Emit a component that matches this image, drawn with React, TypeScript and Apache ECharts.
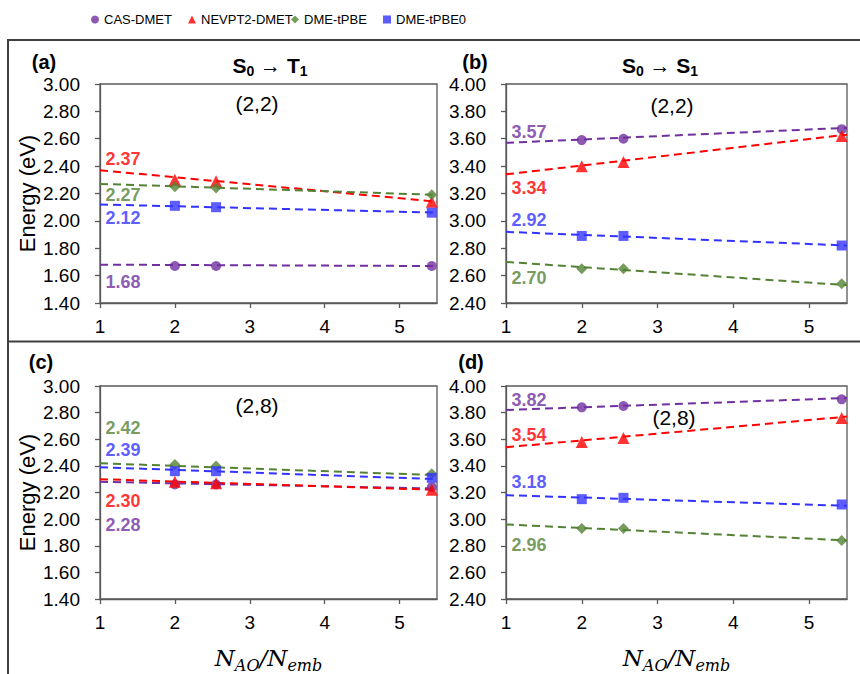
import React, { useEffect, useRef } from "react";
import * as echarts from "echarts";

// ---------- data ----------
const methods = ["CAS-DMET", "NEVPT2-DMET", "DME-tPBE", "DME-tPBE0"];
const xValues = [2, 2.55, 5.43];
const trendX = [1, 5.5];
const xTicks = [1, 2, 3, 4, 5];

// panel (a) S0->T1 (2,2)
const casA = [1.67, 1.67, 1.67];
const nevA = [2.3, 2.29, 2.14];
const tpbeA = [2.25, 2.24, 2.19];
const tpbe0A = [2.11, 2.1, 2.06];
const casTrendA = [1.68, 1.67];
const nevTrendA = [2.37, 2.14];
const tpbeTrendA = [2.27, 2.19];
const tpbe0TrendA = [2.12, 2.06];

// panel (b) S0->S1 (2,2)
const casB = [3.59, 3.6, 3.67];
const nevB = [3.4, 3.43, 3.62];
const tpbeB = [2.65, 2.65, 2.54];
const tpbe0B = [2.89, 2.89, 2.82];
const casTrendB = [3.57, 3.68];
const nevTrendB = [3.34, 3.63];
const tpbeTrendB = [2.7, 2.53];
const tpbe0TrendB = [2.92, 2.82];

// panel (c) S0->T1 (2,8)
const casC = [2.26, 2.26, 2.24];
const nevC = [2.28, 2.27, 2.22];
const tpbeC = [2.41, 2.4, 2.34];
const tpbe0C = [2.36, 2.36, 2.31];
const casTrendC = [2.28, 2.23];
const nevTrendC = [2.3, 2.22];
const tpbeTrendC = [2.42, 2.33];
const tpbe0TrendC = [2.39, 2.3];

// panel (d) S0->S1 (2,8)
const casD = [3.84, 3.85, 3.9];
const nevD = [3.58, 3.61, 3.76];
const tpbeD = [2.93, 2.93, 2.84];
const tpbe0D = [3.15, 3.16, 3.11];
const casTrendD = [3.82, 3.91];
const nevTrendD = [3.54, 3.77];
const tpbeTrendD = [2.96, 2.84];
const tpbe0TrendD = [3.18, 3.1];

const yRanges = [
  [1.4, 3.0],
  [2.4, 4.0],
  [1.4, 3.0],
  [2.4, 4.0],
];

// ---------- styles / layout ----------
const COLORS = ["#7030A0", "#FF0000", "#548235", "#3333FF"];
const SYMBOLS = ["circle", "triangle", "diamond", "rect"];
const SYMBOL_SIZES = [10, 12, 11, 10];
const FONT = "'Liberation Sans', Arial, Helvetica, sans-serif";

const GRIDS = [
  { left: 100, top: 84, width: 337, height: 219 },
  { left: 506, top: 84, width: 341, height: 219 },
  { left: 100, top: 386, width: 337, height: 217 },
  { left: 506, top: 386, width: 341, height: 217 },
];

// vertical offsets (px) of the intercept labels relative to their line start
const LABEL_DY = [
  [17, -11, 11, 13.5],
  [-11, 13.5, 16, -12],
  [43, 22, -35, -17],
  [-10, -12, 21, -13],
];

const panelValues = [
  [casA, nevA, tpbeA, tpbe0A],
  [casB, nevB, tpbeB, tpbe0B],
  [casC, nevC, tpbeC, tpbe0C],
  [casD, nevD, tpbeD, tpbe0D],
];
const panelTrends = [
  [casTrendA, nevTrendA, tpbeTrendA, tpbe0TrendA],
  [casTrendB, nevTrendB, tpbeTrendB, tpbe0TrendB],
  [casTrendC, nevTrendC, tpbeTrendC, tpbe0TrendC],
  [casTrendD, nevTrendD, tpbeTrendD, tpbe0TrendD],
];

function buildOption() {
  const series: any[] = [];
  panelValues.forEach((vals, p) => {
    vals.forEach((v, m) => {
      const tr = panelTrends[p][m];
      series.push({
        type: "line",
        name: methods[m] + " trend",
        xAxisIndex: p,
        yAxisIndex: p,
        data: trendX.map((x, i) => [x, tr[i]]),
        symbol: "none",
        silent: true,
        z: 2,
        lineStyle: { color: COLORS[m], width: 2, type: [8, 5] },
      });
      series.push({
        type: "scatter",
        name: methods[m],
        xAxisIndex: p,
        yAxisIndex: p,
        data: xValues.map((x, i) => [x, v[i]]),
        symbol: SYMBOLS[m],
        symbolSize: SYMBOL_SIZES[m],
        itemStyle: { color: COLORS[m] },
        z: 3,
      });
      series.push({
        type: "scatter",
        name: methods[m] + " intercept",
        xAxisIndex: p,
        yAxisIndex: p,
        clip: false,
        silent: true,
        data: [[trendX[0], tr[0]]],
        symbolSize: 1,
        itemStyle: { color: "rgba(0,0,0,0)" },
        z: 4,
        label: {
          show: true,
          position: "right",
          distance: 5,
          offset: [0, LABEL_DY[p][m]],
          formatter: () => tr[0].toFixed(2),
          color: COLORS[m],
          fontFamily: FONT,
          fontWeight: "bold",
          fontSize: 18,
        },
      });
    });
  });

  const axisLineStyle = { color: "#595959", width: 1.3 };

  const xAxis = GRIDS.map((_, p) => ({
    type: "value",
    gridIndex: p,
    min: 1,
    max: 5.5,
    interval: 1,
    splitLine: { show: false },
    axisLine: { show: true, lineStyle: axisLineStyle },
    axisTick: { show: true, length: 5, lineStyle: axisLineStyle, customValues: xTicks },
    axisLabel: {
      showMaxLabel: false,
      color: "#000",
      fontSize: 19,
      fontFamily: FONT,
      margin: 14,
    },
    name: p >= 2 ? "{n|N}{s|AO}{n|/N}{s|emb}" : "",
    nameLocation: "middle",
    nameGap: 44,
    nameTextStyle: {
      rich: {
        n: {
          fontFamily: "'DejaVu Serif', serif",
          fontStyle: "italic",
          fontSize: 23,
          lineHeight: 30,
          color: "#000",
          verticalAlign: "middle",
        },
        s: {
          fontFamily: "'DejaVu Serif', serif",
          fontStyle: "italic",
          fontSize: 16,
          lineHeight: 16,
          color: "#000",
          verticalAlign: "bottom",
        },
      },
    },
  }));

  const yAxis = GRIDS.map((_, p) => ({
    type: "value",
    gridIndex: p,
    min: yRanges[p][0],
    max: yRanges[p][1],
    interval: 0.2,
    splitLine: { show: false },
    axisLine: { show: true, lineStyle: axisLineStyle },
    axisTick: { show: true, length: 5, lineStyle: axisLineStyle },
    axisLabel: {
      color: "#000",
      fontSize: 19,
      fontFamily: FONT,
      margin: 20,
      formatter: (v: number) => v.toFixed(2),
    },
    name: p % 2 === 0 ? "Energy (eV)" : "",
    nameLocation: "middle",
    nameGap: 62,
    nameTextStyle: { color: "#000", fontSize: 22, fontFamily: FONT },
  }));

  const legendLefts = [91, 188, 291, 383];
  const legend = methods.map((m, i) => ({
    data: [{ name: m, icon: SYMBOLS[i] }],
    left: legendLefts[i],
    top: 13,
    itemWidth: 8,
    itemHeight: 8,
    itemGap: 0,
    padding: 0,
    selectedMode: false,
    textStyle: {
      fontFamily: "'Liberation Sans Narrow', 'Arial Narrow', " + FONT,
      fontSize: 13,
      color: "#000",
    },
  }));

  const bold = { fontFamily: FONT, fontWeight: "bold", fontSize: 21, lineHeight: 26, verticalAlign: "middle", fill: "#000" };
  const sub = { fontFamily: FONT, fontWeight: "bold", fontSize: 14, lineHeight: 14, verticalAlign: "bottom", fill: "#000" };
  const arrow = { fontFamily: FONT, fontSize: 21, lineHeight: 26, verticalAlign: "middle", fill: "#000" };
  const titleRich = { b: bold, s: sub, a: arrow };

  const textEl = (text: string, x: number, y: number, extra: any = {}) => ({
    type: "text",
    x,
    y,
    silent: true,
    style: {
      text,
      align: "center",
      verticalAlign: "middle",
      fill: "#000",
      font: `21px ${FONT}`,
      ...extra,
    },
  });

  const graphic = [
    {
      type: "polyline",
      silent: true,
      shape: { points: [[8, 674], [8, 40], [860, 40]] },
      style: { stroke: "#404040", lineWidth: 2, fill: null },
    },
    {
      type: "line",
      silent: true,
      shape: { x1: 8, y1: 341.5, x2: 860, y2: 341.5 },
      style: { stroke: "#404040", lineWidth: 2 },
    },
    textEl("(a)", 44, 62, { font: `bold 20px ${FONT}` }),
    textEl("(b)", 475, 62, { font: `bold 20px ${FONT}` }),
    textEl("(c)", 41, 362, { font: `bold 20px ${FONT}` }),
    textEl("(d)", 471, 362, { font: `bold 20px ${FONT}` }),
    textEl("{b|S}{s|0}{a| → }{b|T}{s|1}", 270, 65, { rich: titleRich }),
    textEl("{b|S}{s|0}{a| → }{b|S}{s|1}", 660, 65, { rich: titleRich }),
    textEl("(2,2)", 257, 103),
    textEl("(2,2)", 672, 105),
    textEl("(2,8)", 257, 405),
    textEl("(2,8)", 674, 417),
  ];

  return {
    animation: false,
    backgroundColor: "#fff",
    grid: GRIDS.map((g) => ({
      ...g,
      show: true,
      borderColor: "#595959",
      borderWidth: 1.3,
      containLabel: false,
    })),
    legend,
    xAxis,
    yAxis,
    series,
    graphic,
  };
}

export default function App() {
  const ref = useRef<HTMLDivElement>(null);
  useEffect(() => {
    if (!ref.current) return;
    const chart = echarts.init(ref.current, null, { renderer: "svg" });
    chart.setOption(buildOption() as any);
    return () => chart.dispose();
  }, []);
  return (
    <div
      ref={ref}
      style={{ position: "absolute", left: 0, top: 0, width: 860, height: 674 }}
    />
  );
}
